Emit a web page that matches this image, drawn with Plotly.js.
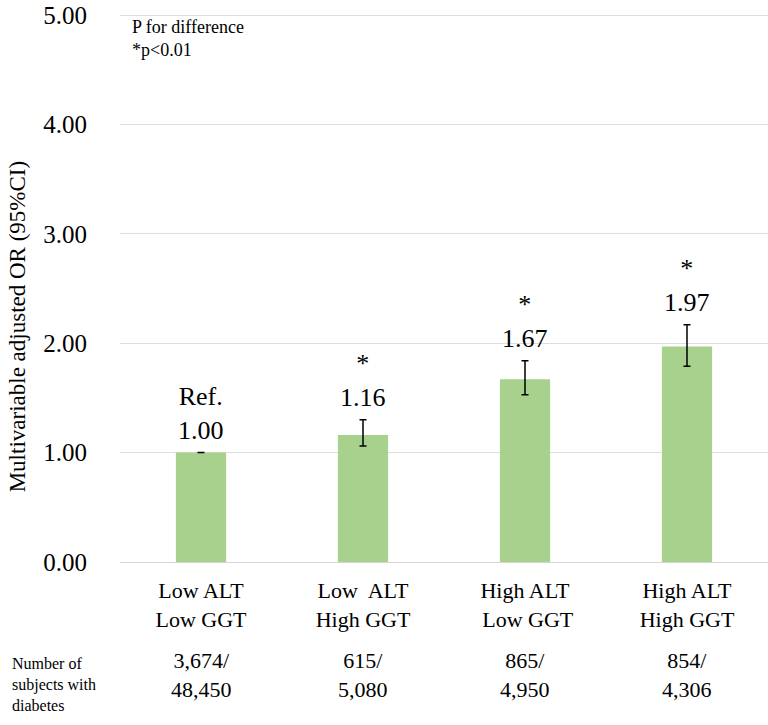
<!DOCTYPE html>
<html>
<head>
<meta charset="utf-8">
<script src="https://cdn.plot.ly/plotly-3.0.1.min.js"></script>
<style>
  body { margin: 0; background: #fff; }
  #chart { width: 768px; height: 725px; }
</style>
</head>
<body>
<div id="chart"></div>
<script>
var groups = ["Low ALT<br>Low GGT", "Low  ALT<br>High GGT", "High ALT<br> Low GGT", "High ALT<br>High GGT"];
var oddsRatio = [1.00, 1.16, 1.67, 1.97];
var ciLower = [1.00, 1.06, 1.53, 1.79];
var ciUpper = [1.00, 1.30, 1.84, 2.17];
var marks = ["Ref.", "*", "*", "*"];
var valueText = ["1.00", "1.16", "1.67", "1.97"];
var diabetesCases = ["3,674/", "615/", "865/", "854/"];
var subjects = ["48,450", "5,080", "4,950", "4,306"];
var yTicks = [0, 1, 2, 3, 4, 5];
var yTickText = ["0.00", "1.00", "2.00", "3.00", "4.00", "5.00"];

var serif = "Liberation Serif, serif";

var xs = [0, 1, 2, 3];

var bars = {
	type: "bar",
	x: xs,
	y: oddsRatio,
	marker: { color: "#a9d18e" },
	error_y: {
		type: "data",
		symmetric: false,
		array: ciUpper.map(function (u, i) { return u - oddsRatio[i]; }),
		arrayminus: ciLower.map(function (l, i) { return oddsRatio[i] - l; }),
		color: "#000000",
		thickness: 1.5,
		width: 3.5
	},
	hoverinfo: "none"
};

var annotations = [];

// star / Ref. and the OR value above each error bar
for (var i = 0; i < xs.length; i++) {
	annotations.push({
		x: xs[i], y: ciUpper[i], xref: "x", yref: "y",
		text: marks[i] + "<br>" + valueText[i],
		showarrow: false,
		yanchor: "bottom",
		yshift: 6,
		font: { family: serif, size: 26, color: "#000" }
	});
	// counts under the axis
	annotations.push({
		x: xs[i], y: -0.207, xref: "x", yref: "paper",
		text: diabetesCases[i] + "<br>" + subjects[i],
		showarrow: false,
		yanchor: "middle",
		font: { family: serif, size: 22, color: "#000" }
	});
}

annotations.push({
	x: -0.17, y: -0.224, xref: "paper", yref: "paper",
	text: "Number of<br>subjects with<br>diabetes",
	showarrow: false, xanchor: "left", yanchor: "middle", align: "left",
	font: { family: serif, size: 16, color: "#000" }
});

annotations.push({
	x: 0.015, y: 0.955, xref: "paper", yref: "paper",
	text: "P for difference<br>*p&lt;0.01",
	showarrow: false, xanchor: "left", yanchor: "middle", align: "left",
	font: { family: serif, size: 18, color: "#000" }
});

annotations.push({
	x: -0.159, y: 0.43, xref: "paper", yref: "paper",
	text: "Multivariable adjusted OR (95%CI)",
	showarrow: false, textangle: -90,
	xanchor: "center", yanchor: "middle",
	font: { family: serif, size: 23, color: "#000" }
});

var layout = {
	width: 768,
	height: 725,
	margin: { l: 120, r: 0, t: 14, b: 163 },
	paper_bgcolor: "#ffffff",
	plot_bgcolor: "#ffffff",
	showlegend: false,
	bargap: 0.69,
	xaxis: {
		range: [-0.5, 3.5],
		tickvals: xs,
		ticktext: groups,
		showgrid: false,
		zeroline: false,
		showline: false,
		ticks: "",
		ticklabelstandoff: 13,
		tickfont: { family: serif, size: 22, color: "#000" },
		fixedrange: true
	},
	yaxis: {
		range: [0, 5.01],
		tickvals: yTicks,
		ticktext: yTickText,
		showgrid: true,
		gridcolor: "#dedede",
		gridwidth: 1,
		zeroline: true,
		zerolinecolor: "#d6d6d6",
		zerolinewidth: 1,
		showline: false,
		ticks: "",
		ticklabelstandoff: 32,
		ticklabeloverflow: "allow",
		tickfont: { family: serif, size: 25, color: "#000" },
		fixedrange: true
	},
	annotations: annotations
};

Plotly.newPlot("chart", [bars], layout, { displayModeBar: false, staticPlot: true });
</script>
</body>
</html>
